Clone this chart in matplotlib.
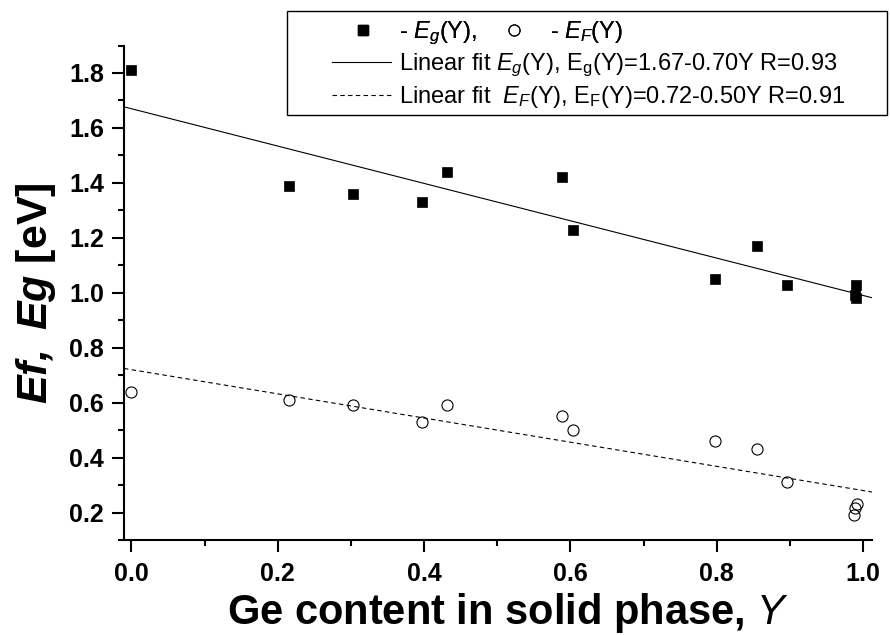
import matplotlib
matplotlib.use("Agg")
import matplotlib.pyplot as plt
import numpy as np
from matplotlib.ticker import MultipleLocator, FormatStrFormatter
from matplotlib.lines import Line2D
from matplotlib.patches import Rectangle

# ---- data ----
Y_eg = [0.0, 0.215, 0.303, 0.397, 0.432, 0.588, 0.603, 0.797, 0.855, 0.896, 0.990, 0.989, 0.990]
Eg = [1.81, 1.39, 1.36, 1.33, 1.44, 1.42, 1.23, 1.05, 1.17, 1.03, 1.03, 0.99, 0.98]
Y_ef = [0.0, 0.215, 0.303, 0.397, 0.432, 0.588, 0.603, 0.797, 0.855, 0.896, 0.991, 0.989, 0.988]
Ef = [0.64, 0.61, 0.59, 0.53, 0.59, 0.55, 0.50, 0.46, 0.43, 0.31, 0.23, 0.215, 0.19]
eg_fit = [1.67, -0.68]   # intercept, slope of the drawn line
ef_fit = [0.72, -0.44]
lbl_eg = r'- $E_g$(Y),'
lbl_ef = r'- $E_F$(Y)'
lbl_fit_eg = r'Linear fit $E_g$(Y), $\mathrm{E_g}$(Y)=1.67-0.70Y R=0.93'
lbl_fit_ef = r'Linear fit  $E_F$(Y), $\mathrm{E_F}$(Y)=0.72-0.50Y R=0.91'
xlabel = 'Ge content in solid phase, $Y$'
ylabel = r'$\mathbf{Ef,}$ $\mathbf{Eg}$ [eV]'

plt.rcParams['font.family'] = ['Liberation Sans', 'DejaVu Sans']
plt.rcParams['mathtext.fontset'] = 'custom'
plt.rcParams['mathtext.rm'] = 'Liberation Sans'
plt.rcParams['mathtext.it'] = 'Liberation Sans:italic'
plt.rcParams['mathtext.bf'] = 'Liberation Sans:italic:bold'

W, H = 890, 635
fig = plt.figure(figsize=(W / 100, H / 100), dpi=100)
ax = fig.add_axes([124 / W, 1 - 540 / H, (872 - 124) / W, (540 - 45.5) / H])

xlim = (-0.01, 1.012)
ax.set_xlim(*xlim)
ax.set_ylim(0.1, 1.9)

ax.plot(Y_eg, Eg, linestyle='none', marker='s', ms=7.6, color='black', mec='black', mew=0.5, zorder=3)
ax.plot(Y_ef, Ef, linestyle='none', marker='o', ms=8.0, mfc='none', mec='black', mew=0.8, zorder=3)

xf = np.array(xlim)
ax.plot(xf, eg_fit[0] + eg_fit[1] * xf, color='black', lw=0.8, zorder=2)
ax.plot(xf, ef_fit[0] + ef_fit[1] * xf, color='black', lw=0.8, linestyle=(0, (4, 3)), zorder=2)

for s in ['top', 'right']:
    ax.spines[s].set_visible(False)
for s in ['left', 'bottom']:
    ax.spines[s].set_linewidth(1.5)

ax.xaxis.set_major_locator(MultipleLocator(0.2))
ax.xaxis.set_minor_locator(MultipleLocator(0.1))
ax.yaxis.set_major_locator(MultipleLocator(0.2))
ax.yaxis.set_minor_locator(MultipleLocator(0.1))
ax.xaxis.set_major_formatter(FormatStrFormatter('%.1f'))
ax.yaxis.set_major_formatter(FormatStrFormatter('%.1f'))
ax.tick_params(which='major', direction='out', length=8.5, width=1.5, labelsize=18, pad=6)
ax.tick_params(which='minor', direction='out', length=4.3, width=1.5)
ax.tick_params(axis='x', which='major', pad=7)
for lab in ax.get_xticklabels() + ax.get_yticklabels():
    lab.set_fontweight('bold')

ax.set_xlabel(xlabel, fontsize=30, fontweight='bold')
ax.xaxis.set_label_coords(0.513, -0.104, transform=ax.transAxes)
ax.xaxis.label.set_verticalalignment('top')
ax.set_ylabel(ylabel, fontsize=31, fontweight='bold', labelpad=8)

# legend
h_sq = Line2D([], [], linestyle='none', marker='s', ms=7.6, color='black')
h_ci = Line2D([], [], linestyle='none', marker='o', ms=8.0, mfc='none', mec='black', mew=0.8)
h_l1 = Line2D([], [], color='black', lw=0.8)
h_l2 = Line2D([], [], color='black', lw=0.8, linestyle=(0, (4, 3)))

leg1 = fig.legend([h_sq, h_ci], [lbl_eg, lbl_ef], ncol=2, frameon=False, fontsize=17,
                  loc='center left', bbox_to_anchor=(349 / W, 1 - 33 / H),
                  borderpad=0, borderaxespad=0, handlelength=1.2, handletextpad=0.9,
                  columnspacing=1.0)
leg2 = fig.legend([h_l1, h_l2], [lbl_fit_eg, lbl_fit_ef], frameon=False, fontsize=17,
                  loc='center left', bbox_to_anchor=(332 / W, 1 - 81 / H),
                  borderpad=0, borderaxespad=0, handlelength=2.5, handletextpad=0.35,
                  labelspacing=0.2)
fig.add_artist(leg1)
fig.patches.append(Rectangle((287 / W, 1 - 115 / H), (887 - 287) / W, (115 - 11) / H,
                             transform=fig.transFigure, fill=False, lw=1.0, ec='black'))

fig.savefig('out.png', dpi=100)
